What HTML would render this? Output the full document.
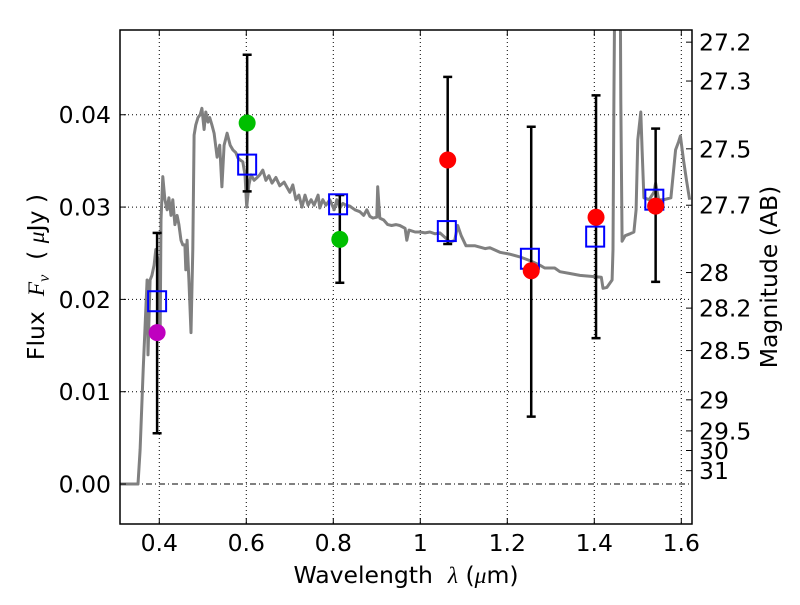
<!DOCTYPE html>
<html><head><meta charset="utf-8"><style>
body{margin:0;background:#fff}
svg{font-family:"DejaVu Sans","Liberation Sans",sans-serif}
</style></head><body>
<svg id="chart" width="800" height="600" xmlns="http://www.w3.org/2000/svg">
<defs><clipPath id="clip"><rect x="120" y="30" width="572" height="494"/></clipPath></defs>
<rect width="800" height="600" fill="#fff"/>
<g id="grid"></g>
<g id="spec" clip-path="url(#clip)"></g>
<g id="marks" clip-path="url(#clip)"></g>
<g id="axes"></g>
<text x="406" y="583" font-size="23.5" text-anchor="middle">Wavelength&#160;&#160;<tspan font-style="italic" font-family="Liberation Serif, serif">λ</tspan> (<tspan font-style="italic" font-family="Liberation Serif, serif">μ</tspan>m)</text>
<text transform="translate(44,277) rotate(-90)" font-size="23.5" text-anchor="middle">Flux&#160;&#160;<tspan font-style="italic" font-family="Liberation Serif, serif">F<tspan font-size="16" dy="5">ν</tspan></tspan><tspan dy="-5">&#160;&#160;(&#160;</tspan><tspan font-style="italic" font-family="Liberation Serif, serif">μ</tspan>Jy )</text>
<text transform="translate(777,277) rotate(-90)" font-size="23.5" text-anchor="middle">Magnitude (AB)</text>
</svg>
<script>
const xTicks=[0.4,0.6,0.8,1.0,1.2,1.4,1.6];
const xTickLabels=["0.4","0.6","0.8","1","1.2","1.4","1.6"];
const yTicks=[0,0.01,0.02,0.03,0.04];
const yTickLabels=["0.00","0.01","0.02","0.03","0.04"];
const magTicks=[27.2,27.3,27.5,27.7,28,28.2,28.5,29,29.5,30,31];
const magTickLabels=["27.2","27.3","27.5","27.7","28","28.2","28.5","29","29.5","30","31"];
const specWave=[0.310,0.351,0.356,0.363,0.372,0.374,0.379,0.383,0.388,0.392,0.397,0.402,0.404,0.408,0.413,0.418,0.422,0.427,0.431,0.436,0.441,0.445,0.450,0.454,0.459,0.461,0.464,0.468,0.473,0.477,0.480,0.484,0.489,0.494,0.498,0.503,0.507,0.512,0.516,0.521,0.526,0.533,0.539,0.544,0.549,0.556,0.563,0.569,0.576,0.581,0.586,0.592,0.597,0.601,0.606,0.611,0.618,0.625,0.631,0.638,0.645,0.652,0.659,0.668,0.677,0.687,0.694,0.700,0.707,0.714,0.721,0.728,0.735,0.742,0.749,0.756,0.765,0.769,0.776,0.783,0.792,0.802,0.808,0.815,0.822,0.829,0.838,0.850,0.861,0.870,0.877,0.884,0.891,0.900,0.902,0.907,0.916,0.925,0.934,0.944,0.953,0.965,0.969,0.974,0.988,0.999,1.011,1.022,1.034,1.045,1.057,1.068,1.079,1.086,1.094,1.105,1.126,1.149,1.160,1.183,1.206,1.229,1.252,1.275,1.286,1.309,1.321,1.344,1.367,1.390,1.416,1.420,1.429,1.441,1.443,1.445,1.448,1.459,1.461,1.464,1.471,1.482,1.491,1.496,1.500,1.507,1.510,1.514,1.526,1.537,1.541,1.548,1.560,1.576,1.580,1.587,1.594,1.598,1.605,1.612,1.619];
const specFlux=[0,0,0.0037,0.0124,0.0221,0.0140,0.0221,0.0226,0.0237,0.0254,0.0243,0.0167,0.0286,0.0333,0.0308,0.0297,0.0310,0.0291,0.0308,0.0281,0.0291,0.0281,0.0264,0.0259,0.0259,0.0232,0.0264,0.0221,0.0164,0.0254,0.0378,0.0389,0.0397,0.0400,0.0407,0.0384,0.0403,0.0392,0.0397,0.0389,0.0380,0.0354,0.0367,0.0322,0.0367,0.0380,0.0367,0.0362,0.0359,0.0353,0.0351,0.0349,0.0335,0.0300,0.0324,0.0335,0.0329,0.0332,0.0335,0.0340,0.0329,0.0334,0.0326,0.0332,0.0323,0.0327,0.0321,0.0316,0.0324,0.0308,0.0313,0.0300,0.0313,0.0302,0.0308,0.0302,0.0313,0.0299,0.0308,0.0302,0.0308,0.0297,0.0308,0.0299,0.0304,0.0302,0.0301,0.0297,0.0295,0.0291,0.0297,0.0290,0.0288,0.0289,0.0322,0.0288,0.0286,0.0281,0.0280,0.0281,0.0280,0.0277,0.0264,0.0275,0.0273,0.0273,0.0272,0.0273,0.0271,0.0272,0.0267,0.0262,0.0264,0.0280,0.0269,0.0258,0.0258,0.0255,0.0256,0.0251,0.0249,0.0246,0.0242,0.0237,0.0234,0.0234,0.0230,0.0228,0.0226,0.0225,0.0224,0.0212,0.0213,0.0221,0.0254,0.0416,0.060,0.060,0.0416,0.0263,0.0269,0.0271,0.0273,0.0297,0.0373,0.0403,0.0362,0.0310,0.0308,0.0316,0.0326,0.0308,0.0308,0.0310,0.0329,0.0362,0.0371,0.0377,0.0351,0.0329,0.0308];
const modelWave=[0.395,0.602,0.811,1.061,1.252,1.402,1.538];
const modelFlux=[0.0198,0.0346,0.0303,0.0274,0.0244,0.0268,0.0308];
const obsWave=[0.395,0.602,0.815,1.063,1.255,1.404,1.541];
const obsFlux=[0.0164,0.0391,0.0265,0.0351,0.0231,0.0289,0.0301];
const obsLow=[0.0055,0.0317,0.0218,0.0260,0.0073,0.0158,0.0219];
const obsHigh=[0.0272,0.0465,0.0313,0.0441,0.0387,0.0421,0.0385];
const obsColor=["#bf00bf","#00bf00","#00bf00","#ff0000","#ff0000","#ff0000","#ff0000"];

const L=120,R=692,T=30,B=524;
const xMin=0.3097,xMax=1.6246,yMin=-0.00433,yMax=0.04918;
const X=v=>L+(v-xMin)/(xMax-xMin)*(R-L);
const Y=v=>B-(v-yMin)/(yMax-yMin)*(B-T);
const magToFlux=m=>Math.pow(10,(23.9-m)/2.5);
const NS="http://www.w3.org/2000/svg";
function mk(tag,attrs,parent){const e=document.createElementNS(NS,tag);for(const k in attrs)e.setAttribute(k,attrs[k]);parent.appendChild(e);return e;}
const grid=document.getElementById('grid'),axes=document.getElementById('axes'),spec=document.getElementById('spec'),marks=document.getElementById('marks');

xTicks.forEach((t,i)=>{
  const g=mk('line',{x1:X(t),x2:X(t),y1:T,y2:B,stroke:'#000','stroke-width':1,'stroke-dasharray':'1,3'},grid);
  
  
  mk('line',{x1:X(t),x2:X(t),y1:B,y2:B-6,stroke:'#000','stroke-width':1},axes);
  mk('line',{x1:X(t),x2:X(t),y1:T,y2:T+6,stroke:'#000','stroke-width':1},axes);
  const tx=mk('text',{x:X(t),y:B+27,'font-size':23.5,'text-anchor':'middle'},axes);
  tx.textContent=xTickLabels[i];
  
  
});
yTicks.forEach((t,i)=>{
  const g=mk('line',{x1:L,x2:R,y1:Y(t),y2:Y(t),stroke:'#000','stroke-width':1,'stroke-dasharray':t===0?'6,3,1,3':'1,3'},grid);
  
  
  mk('line',{x1:L,x2:L+6,y1:Y(t),y2:Y(t),stroke:'#000','stroke-width':1},axes);
  const tx=mk('text',{x:L-9,y:Y(t)+8.5,'font-size':23.5,'text-anchor':'end'},axes);
  tx.textContent=yTickLabels[i];
  
  
});
magTicks.forEach((m,i)=>{
  const y=Y(magToFlux(m));
  mk('line',{x1:R,x2:R-6,y1:y,y2:y,stroke:'#000','stroke-width':1},axes);
  const tx=mk('text',{x:R+7,y:y+8.5,'font-size':23.5,'text-anchor':'start'},axes);
  tx.textContent=magTickLabels[i];
  
  
});
const fr=mk('rect',{x:L,y:T,width:R-L,height:B-T,fill:'none',stroke:'#000','stroke-width':1.5},axes);



const line=mk('polyline',{points:specWave.map((w,i)=>X(w).toFixed(1)+','+Y(specFlux[i]).toFixed(1)).join(' '),fill:'none',stroke:'#808080','stroke-width':3,'stroke-linejoin':'round'},spec);



obsWave.forEach((w,i)=>{
  const x=X(w);
  const eb=mk('g',{stroke:'#000','stroke-width':2.5},marks);
  
  
  mk('line',{x1:x,x2:x,y1:Y(obsLow[i]),y2:Y(obsHigh[i])},eb);
  mk('line',{x1:x-4.5,x2:x+4.5,y1:Y(obsLow[i]),y2:Y(obsLow[i])},eb);
  mk('line',{x1:x-4.5,x2:x+4.5,y1:Y(obsHigh[i]),y2:Y(obsHigh[i])},eb);
});
modelWave.forEach((w,i)=>{
  const s=mk('rect',{x:X(w)-9,y:Y(modelFlux[i])-10,width:18,height:20,fill:'none',stroke:'#0000ff','stroke-width':2},marks);
  
  
});
obsWave.forEach((w,i)=>{
  const c=mk('circle',{cx:X(w),cy:Y(obsFlux[i]),r:8.5,fill:obsColor[i]},marks);
  
  
});
</script>
</body></html>
